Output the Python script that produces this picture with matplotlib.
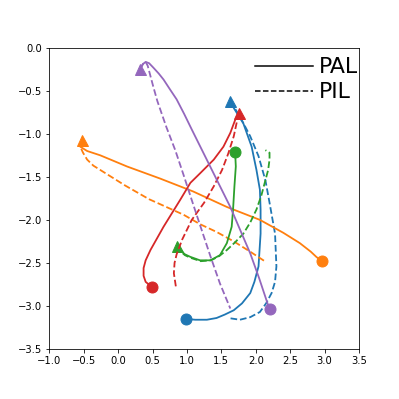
"""PAL vs PIL trajectories: five runs, triangle = start, circle = end of PAL."""
import matplotlib
matplotlib.use("Agg")  # headless safe
import matplotlib.pyplot as plt
from matplotlib.lines import Line2D

# colour per run (tab10 order)
COLORS = ["C0", "C1", "C2", "C3", "C4"]

# PAL (solid) trajectories
pal_blue_x = [1.63, 1.68, 1.82, 1.94, 2.01, 2.06, 2.07, 2.07, 2.04, 1.98, 1.92, 1.80, 1.68, 1.55, 1.43, 1.29, 1.12, 0.98]
pal_blue_y = [-0.62, -0.70, -0.88, -1.15, -1.42, -1.65, -1.88, -2.16, -2.54, -2.72, -2.85, -2.97, -3.05, -3.10, -3.14, -3.16, -3.16, -3.15]
pal_orange_x = [-0.52, -0.55, -0.45, -0.26, 0.13, 0.61, 1.09, 1.58, 2.06, 2.40, 2.64, 2.80, 2.88, 2.96]
pal_orange_y = [-1.07, -1.15, -1.20, -1.25, -1.38, -1.52, -1.67, -1.85, -2.00, -2.15, -2.27, -2.37, -2.43, -2.48]
pal_green_x = [0.86, 0.90, 0.97, 1.05, 1.19, 1.34, 1.48, 1.58, 1.65, 1.67, 1.69, 1.71, 1.70]
pal_green_y = [-2.30, -2.35, -2.40, -2.43, -2.47, -2.47, -2.41, -2.27, -2.08, -1.88, -1.61, -1.38, -1.21]
pal_red_x = [1.75, 1.70, 1.63, 1.53, 1.39, 1.19, 1.05, 0.90, 0.66, 0.47, 0.40, 0.37, 0.37, 0.40, 0.49]
pal_red_y = [-0.76, -0.84, -0.99, -1.15, -1.30, -1.46, -1.57, -1.77, -2.08, -2.35, -2.47, -2.56, -2.65, -2.72, -2.78]
pal_purple_x = [0.32, 0.36, 0.40, 0.45, 0.51, 0.59, 0.66, 0.75, 0.85, 0.96, 1.07, 1.35, 1.63, 1.92, 2.05, 2.20]
pal_purple_y = [-0.25, -0.19, -0.165, -0.18, -0.23, -0.30, -0.37, -0.48, -0.60, -0.77, -0.95, -1.40, -1.85, -2.39, -2.68, -3.04]

# PIL (dashed) trajectories
pil_blue_x = [1.63, 1.77, 1.92, 2.04, 2.14, 2.20, 2.28, 2.30, 2.28, 2.23, 2.15, 2.06, 1.92, 1.77, 1.60]
pil_blue_y = [-0.62, -0.80, -1.03, -1.26, -1.54, -1.80, -2.16, -2.54, -2.72, -2.85, -2.97, -3.07, -3.13, -3.16, -3.14]
pil_orange_x = [-0.52, -0.55, -0.51, -0.45, -0.36, -0.16, 0.10, 0.45, 0.95, 1.19, 1.43, 1.68, 1.92, 2.13]
pil_orange_y = [-1.07, -1.15, -1.22, -1.30, -1.37, -1.47, -1.60, -1.76, -1.94, -2.05, -2.14, -2.25, -2.37, -2.48]
pil_green_x = [0.86, 0.90, 0.97, 1.05, 1.20, 1.35, 1.47, 1.58, 1.70, 1.82, 1.92, 2.01, 2.08, 2.13, 2.18, 2.20, 2.20, 2.14]
pil_green_y = [-2.30, -2.36, -2.41, -2.44, -2.48, -2.47, -2.42, -2.35, -2.26, -2.16, -2.03, -1.88, -1.72, -1.57, -1.42, -1.30, -1.22, -1.19]
pil_red_x = [1.75, 1.72, 1.68, 1.60, 1.51, 1.39, 1.25, 1.07, 0.93, 0.85, 0.82, 0.81, 0.84]
pil_red_y = [-0.76, -0.88, -1.03, -1.23, -1.42, -1.61, -1.80, -2.00, -2.23, -2.40, -2.50, -2.62, -2.78]
pil_purple_x = [0.32, 0.36, 0.40, 0.43, 0.46, 0.51, 0.57, 0.70, 0.83, 0.96, 1.07, 1.19, 1.34, 1.48, 1.63]
pil_purple_y = [-0.25, -0.19, -0.165, -0.21, -0.30, -0.45, -0.62, -0.92, -1.19, -1.50, -1.77, -2.06, -2.42, -2.74, -3.03]

pal = [(pal_blue_x, pal_blue_y), (pal_orange_x, pal_orange_y), (pal_green_x, pal_green_y),
       (pal_red_x, pal_red_y), (pal_purple_x, pal_purple_y)]
pil = [(pil_blue_x, pil_blue_y), (pil_orange_x, pil_orange_y), (pil_green_x, pil_green_y),
       (pil_red_x, pil_red_y), (pil_purple_x, pil_purple_y)]

fig = plt.figure(figsize=(399 / 72, 399 / 72), dpi=72)
ax = fig.add_axes([49.3 / 399, 50 / 399, 309.7 / 399, 301.3 / 399])

LW = 1.8
for c, (px, py), (qx, qy) in zip(COLORS, pal, pil):
    ax.plot(px, py, color=c, linewidth=LW)
    ax.plot(qx, qy, color=c, linewidth=LW, linestyle="--")
    # start marker (triangle) and PAL end marker (circle)
    ax.plot(px[0], py[0], marker="^", color=c, markersize=11, linestyle="none")
    ax.plot(px[-1], py[-1], marker="o", color=c, markersize=11, linestyle="none")

ax.set_xlim(-1, 3.5)
ax.set_ylim(-3.5, 0)

handles = [Line2D([], [], color="black", linewidth=1.5, linestyle="-"),
           Line2D([], [], color="black", linewidth=1.5, linestyle="--")]
ax.legend(handles, ["PAL", "PIL"], loc="upper right", bbox_to_anchor=(1.005, 0.975),
          frameon=False, fontsize=22, handlelength=2.6, handletextpad=0.3,
          labelspacing=0.22, borderpad=0.1, borderaxespad=0.0)

fig.savefig("out.png", dpi=72)
